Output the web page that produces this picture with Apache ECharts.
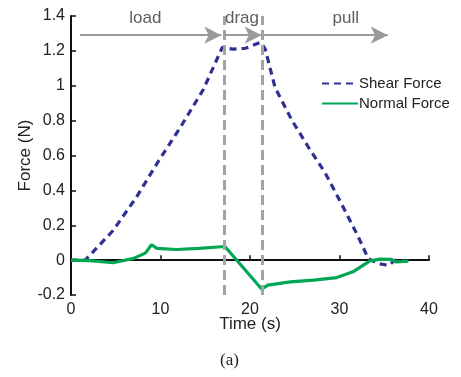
<!DOCTYPE html>
<html>
<head>
<meta charset="utf-8">
<script src="https://cdn.jsdelivr.net/npm/echarts@6/dist/echarts.min.js"></script>
<style>
  html, body { margin: 0; padding: 0; background: #fff; }
  #chart { width: 461px; height: 377px; }
</style>
</head>
<body>
<div id="chart"></div>
<script>
// shear force, dashed navy: [time s, force N]
var shearForce = [
  [0, 0], [1.6, 0], [4.7, 0.17], [7.3, 0.36], [9.8, 0.57], [12.2, 0.76],
  [14.8, 0.98], [16.9, 1.22], [18.1, 1.21], [19.5, 1.215], [21.2, 1.25],
  [21.7, 1.21], [22.8, 0.99], [24.7, 0.80], [26.5, 0.65], [28.4, 0.50],
  [30.2, 0.325], [32.1, 0.134], [33.2, 0.01], [34.3, -0.02], [35.5, -0.03],
  [36.2, 0], [36.8, -0.01], [37.5, 0]
];
// normal force, solid green
var normalForce = [
  [0, 0], [2.1, -0.003], [4.7, -0.015], [7.0, 0.01], [8.3, 0.04], [9.0, 0.088],
  [9.6, 0.067], [11.8, 0.061], [14.3, 0.067], [17.2, 0.078], [21.3, -0.166],
  [22.0, -0.143], [24.5, -0.125], [27.1, -0.115], [29.7, -0.10], [31.5, -0.067],
  [33.4, -0.004], [34.5, 0.006], [35.8, 0.004], [36.3, -0.01], [37.7, -0.006]
];
// phase boundaries (gray dashed verticals)
var phaseLines = [17.1, 21.4];
// phase arrows: [startTime, endTime, force level]
var phaseArrows = [[1.0, 16.8, 1.29], [17.1, 21.3, 1.29], [21.5, 35.4, 1.29]];
// phase labels: [time, force, text]
var phaseLabels = [[8.3, 1.385, 'load'], [19.1, 1.385, 'drag'], [30.7, 1.385, 'pull']];
var xTickLabels = ['0', '10', '20', '30', '40'];
var yTickLabels = ['-0.2', '0', '0.2', '0.4', '0.6', '0.8', '1', '1.2', '1.4'];

var chart = echarts.init(document.getElementById('chart'));
var font = 'Liberation Sans, Arial, sans-serif';

var option = {
  animation: false,
  grid: { left: 71, right: 32, top: 16, bottom: 82 },
  textStyle: { fontFamily: font },
  legend: {
    orient: 'vertical',
    left: 316,
    top: 71,
    itemWidth: 36,
    itemHeight: 14,
    itemGap: 5,
    itemStyle: { opacity: 0 },
    data: ['Shear Force', 'Normal Force'],
    textStyle: { fontFamily: font, fontSize: 15, color: '#222', padding: [0, 0, 0, -4] }
  },
  xAxis: {
    type: 'value',
    min: 0, max: 40, interval: 10,
    name: 'Time (s)',
    nameLocation: 'middle',
    nameGap: 21,
    nameMoveOverlap: false,
    nameTextStyle: { fontFamily: font, fontSize: 17, color: '#222' },
    axisLine: { lineStyle: { color: '#111', width: 2 } },
    axisTick: { inside: true, length: 5, lineStyle: { color: '#111', width: 1.5 } },
    axisLabel: {
      fontSize: 16, color: '#222', margin: 7,
      formatter: function (v, i) { return xTickLabels[i]; }
    },
    splitLine: { show: false }
  },
  yAxis: {
    type: 'value',
    min: -0.2, max: 1.4, interval: 0.2,
    name: 'Force (N)',
    nameLocation: 'middle',
    nameGap: 37,
    nameMoveOverlap: false,
    nameTextStyle: { fontFamily: font, fontSize: 17, color: '#222' },
    axisLine: { show: true, lineStyle: { color: '#111', width: 2 } },
    axisTick: { show: true, inside: true, length: 5, lineStyle: { color: '#111', width: 1.5 } },
    axisLabel: {
      fontSize: 16, color: '#222', margin: 6,
      formatter: function (v, i) { return yTickLabels[i]; }
    },
    splitLine: { show: false }
  },
  series: [
    {
      name: 'Shear Force',
      type: 'line',
      data: shearForce,
      symbol: 'none',
      lineStyle: { color: '#2E3192', width: 3.2, type: [7, 5] },
      itemStyle: { color: '#2E3192' },
      z: 3
    },
    {
      name: 'Normal Force',
      type: 'line',
      data: normalForce,
      symbol: 'none',
      lineStyle: { color: '#00A651', width: 3.2 },
      itemStyle: { color: '#00A651' },
      z: 4
    },
    {
      name: 'phases',
      type: 'line',
      data: [],
      markLine: {
        silent: true,
        symbol: ['none', 'none'],
        label: { show: false },
        lineStyle: { color: '#a3a3a3', width: 3, type: [10, 5] },
        data: phaseLines.map(function (t) { return { xAxis: t }; })
      },
      z: 2
    },
    {
      name: 'arrows',
      type: 'line',
      data: [],
      markLine: {
        silent: true,
        symbol: ['none', 'arrow'],
        symbolSize: [13, 17],
        label: { show: false },
        lineStyle: { color: '#9a9a9a', width: 2, type: 'solid' },
        data: phaseArrows.map(function (a) {
          return [{ coord: [a[0], a[2]] }, { coord: [a[1], a[2]] }];
        })
      },
      z: 2
    },
    {
      name: 'labels',
      type: 'scatter',
      symbolSize: 0,
      data: phaseLabels.map(function (p) { return { value: [p[0], p[1]], name: p[2] }; }),
      label: {
        show: true,
        position: 'inside',
        formatter: function (p) { return p.name; },
        fontFamily: font,
        fontSize: 17,
        color: '#333'
      },
      silent: true
    }
  ],
  graphic: [
    {
      type: 'text',
      left: 220,
      top: 352,
      style: { text: '(a)', font: '17px "Liberation Serif", "Times New Roman", serif', fill: '#222' }
    }
  ]
};
chart.setOption(option);
</script>
</body>
</html>
